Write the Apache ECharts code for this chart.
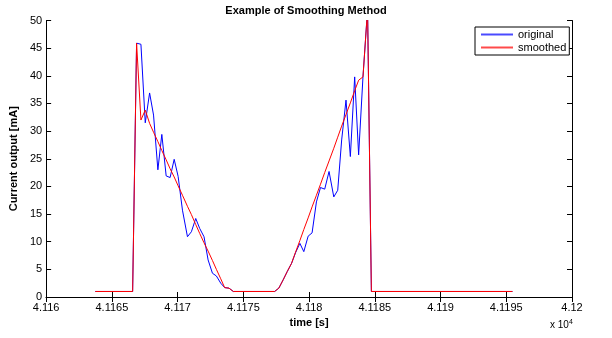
<!DOCTYPE html>
<html>
<head>
<meta charset="utf-8">
<script src="https://cdn.jsdelivr.net/npm/echarts@6/dist/echarts.min.js"></script>
<style>
  html, body { margin: 0; padding: 0; background: #fff; }
  #chart { width: 612px; height: 338px; }
</style>
</head>
<body>
<div id="chart"></div>
<script>
// time stamps [s]
const times = [
  41163.74, 41166.58, 41166.88, 41167.21, 41167.54, 41167.87, 41168.17, 41168.50,
  41168.80, 41169.13, 41169.43, 41169.74, 41170.04, 41170.37, 41170.75, 41171.05,
  41171.38, 41171.68, 41172.01, 41172.32, 41172.65, 41172.95, 41173.28, 41173.58,
  41173.91, 41174.24, 41177.38, 41177.70, 41178.03, 41178.34, 41178.67, 41178.97,
  41179.30, 41179.60, 41179.93, 41180.23, 41180.56, 41180.87, 41181.19, 41181.52,
  41181.88, 41182.18, 41182.48, 41182.81, 41183.14, 41183.47, 41183.77, 41184.10,
  41184.45, 41184.74, 41195.47
]
const original = [
  1.0, 1.0, 45.9, 45.7, 31.5, 36.9, 32.9, 23.0,
  29.4, 21.9, 21.6, 24.9, 21.8, 15.7, 10.9, 11.8,
  14.2, 12.4, 10.9, 6.7, 4.3, 3.8, 2.5, 1.7,
  1.6, 1.0, 1.0, 1.6, 3.1, 4.6, 6.1, 8.0,
  9.7, 8.2, 11.0, 11.6, 17.2, 19.8, 19.5, 22.7,
  18.1, 19.3, 28.4, 35.6, 25.4, 39.8, 25.7, 39.8,
  52.0, 1.0, 1.0
]
const smoothed = [
  1.0, 1.0, 45.9, 32.0, 33.8, 31.4, 29.8, 28.1,
  26.5, 24.8, 23.2, 21.7, 20.1, 18.4, 16.4, 14.9,
  13.1, 11.5, 9.8, 8.3, 6.6, 5.0, 3.3, 1.7,
  1.6, 1.0, 1.0, 1.6, 3.1, 4.6, 6.1, 8.1,
  10.2, 12.2, 14.3, 16.3, 18.4, 20.4, 22.5, 24.6,
  26.9, 28.9, 30.9, 33.0, 35.1, 37.3, 39.2, 39.8,
  52.0, 1.0, 1.0
]
const xMin = 41160
const xMax = 41200
const xStep = 5
const yMin = 0
const yMax = 50
const yStep = 5

const font = 'Liberation Sans, Arial, Helvetica, sans-serif'
const chart = echarts.init(document.getElementById('chart'), null, { renderer: 'canvas' })

const xLabel = (v) => parseFloat((v / 1e4).toFixed(4)).toString()
const axisLine = { lineStyle: { color: '#000', width: 1 } }
const tick = { inside: true, length: 5, lineStyle: { color: '#000' } }

chart.setOption({
  animation: false,
  backgroundColor: '#fff',
  textStyle: { fontFamily: font },
  title: {
    text: 'Example of Smoothing Method',
    left: 'center',
    top: 0,
    textStyle: { fontSize: 11, fontWeight: 'bold', color: '#000', fontFamily: font }
  },
  legend: {
    left: 475,
    top: 27,
    orient: 'vertical',
    backgroundColor: '#fff',
    borderColor: '#000',
    borderWidth: 1,
    borderRadius: 0,
    padding: [2, 3, 2, 6],
    itemGap: 2,
    itemWidth: 32,
    itemHeight: 2,
    icon: 'rect',
    textStyle: { fontSize: 11, color: '#000', fontFamily: font },
    data: [
      { name: 'original', itemStyle: { color: '#4a4aff' } },
      { name: 'smoothed', itemStyle: { color: '#ff4a4a' } }
    ]
  },
  grid: { left: 45, right: 40, top: 20.5, bottom: 41 },
  xAxis: [
    {
      type: 'value',
      min: xMin,
      max: xMax,
      interval: xStep,
      name: 'time [s]',
      nameLocation: 'middle',
      nameGap: 18,
      nameTextStyle: { fontSize: 11, fontWeight: 'bold', color: '#000', fontFamily: font },
      axisLine: axisLine,
      axisTick: tick,
      axisLabel: { color: '#000', fontSize: 11, margin: 5, formatter: xLabel },
      splitLine: { show: false }
    },
    {
      type: 'value',
      position: 'top',
      min: xMin,
      max: xMax,
      interval: xStep,
      axisLine: axisLine,
      axisTick: tick,
      axisLabel: { show: false },
      splitLine: { show: false }
    }
  ],
  yAxis: [
    {
      type: 'value',
      min: yMin,
      max: yMax,
      interval: yStep,
      name: 'Current output [mA]',
      nameLocation: 'middle',
      nameGap: 17,
      nameTextStyle: { fontSize: 11, fontWeight: 'bold', color: '#000', fontFamily: font },
      axisLine: axisLine,
      axisTick: tick,
      axisLabel: { color: '#000', fontSize: 11, margin: 4 },
      splitLine: { show: false }
    },
    {
      type: 'value',
      position: 'right',
      min: yMin,
      max: yMax,
      interval: yStep,
      axisLine: axisLine,
      axisTick: tick,
      axisLabel: { show: false },
      splitLine: { show: false }
    }
  ],
  graphic: [
    {
      type: 'text',
      left: 550,
      top: 319,
      style: {
        text: 'x 10{sup|4}',
        fill: '#000',
        font: '10px ' + font,
        rich: { sup: { fontSize: 7, verticalAlign: 'top', padding: [0, 0, 6, 0] } }
      }
    }
  ],
  series: [
    {
      name: 'original',
      type: 'line',
      data: times.map((t, i) => [t, original[i]]),
      showSymbol: false,
      clip: true,
      lineStyle: { color: '#0000ff', width: 1 },
      itemStyle: { color: '#0000ff' }
    },
    {
      name: 'smoothed',
      type: 'line',
      data: times.map((t, i) => [t, smoothed[i]]),
      showSymbol: false,
      clip: true,
      lineStyle: { color: '#ff0000', width: 1 },
      itemStyle: { color: '#ff0000' }
    }
  ]
})
</script>
</body>
</html>
